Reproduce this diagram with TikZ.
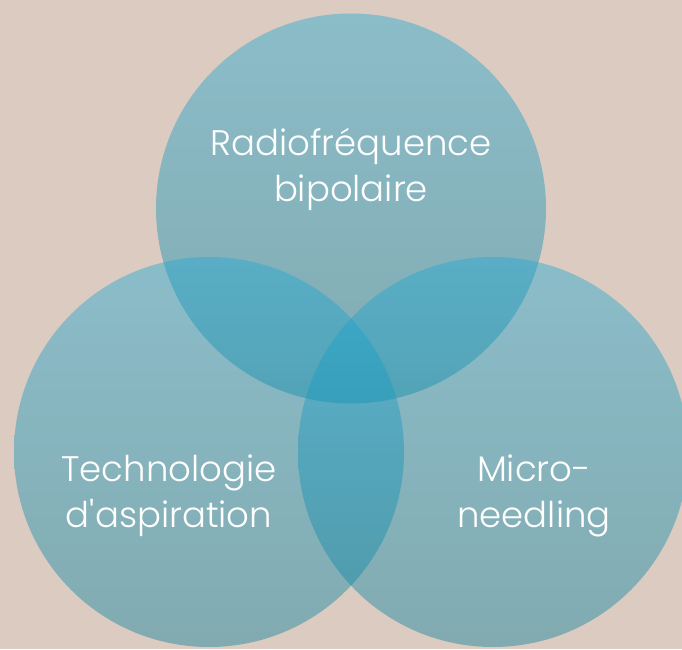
\documentclass[tikz,border=0pt]{standalone}
\usepackage{fontspec}
\setmainfont{Poppins}[UprightFont=* Light]
\usepackage{xcolor}
\usepackage{tikz}
\definecolor{sand}{RGB}{219,203,193}
\definecolor{tealtop}{RGB}{29,170,214}
\definecolor{tealbot}{RGB}{7,127,155}
\tikzstyle{bubble}=[circle,minimum size=390pt,inner sep=0pt,top color=tealtop,bottom color=tealbot,fill opacity=0.42,draw=none]
\tikzstyle{venntext}=[text=white,align=center,anchor=base,font=\fontsize{35.5}{46}\selectfont]

\begin{document}
\begin{tikzpicture}[x=1pt,y=1pt]
		% page background
		\fill[sand] (0,0) rectangle (682,649);
		\useasboundingbox (0,0) rectangle (682,649);
		% the three sets
		\node[bubble] (radio) at (351,440.5) {};
		\node[bubble] (aspi) at (209,197) {};
		\node[bubble] (micro) at (493,197) {};
		% set names (anchored on the last line)
		\node[venntext] (radiotxt) at (351,447) {Radiofréquence\\bipolaire};
		\node[venntext] (aspitxt) at (169,122) {Technologie\\d\textquotesingle aspiration};
		\node[venntext] (microtxt) at (534,122) {Micro-\\needling};
\end{tikzpicture}
\end{document}
